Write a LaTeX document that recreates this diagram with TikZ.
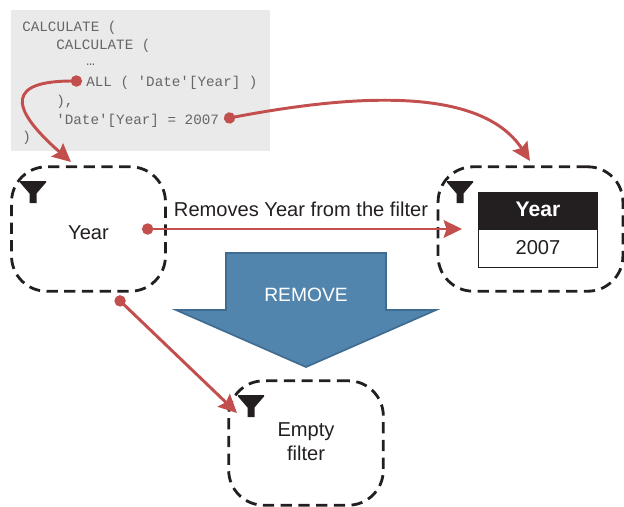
\documentclass[tikz,border=0pt]{standalone}
\usepackage{fontspec}
\setmainfont{Liberation Sans}
\setmonofont{Liberation Mono}
\usepackage{xcolor}
\usetikzlibrary{arrows.meta}
\definecolor{linkred}{HTML}{C24F4D}
\definecolor{removeblue}{HTML}{5285AE}
\definecolor{removeedge}{HTML}{3F6C90}
\definecolor{codegray}{HTML}{EAEAEA}
\definecolor{inkblack}{HTML}{231F20}
\definecolor{codeink}{HTML}{666666}
\tikzset{
    filterbox/.style={draw=inkblack,line width=2pt,dash pattern=on 8pt off 4.6pt,rounded corners=25pt,minimum height=88.5pt,inner sep=0pt},
    boxtext/.style={inner sep=0pt,text=inkblack,align=center,font=\fontsize{14.3}{17}\selectfont},
    codeline/.style={anchor=west,inner sep=0pt,text=codeink,font=\ttfamily\fontsize{10.15}{12}\selectfont},
    link/.style={draw=linkred,line width=2.1pt,{Circle[length=8pt]}-{Stealth[length=13pt,width=12.5pt,inset=2pt]}},
    funnel/.style={fill=inkblack,draw=none}
}
\begin{document}
\begin{tikzpicture}[line cap=butt,line join=miter,x=0.25mm,y=-0.25mm]
\useasboundingbox (0,0) rectangle (624,506);
\fill [codegray] (11,10) rectangle (270,151);
\node[codeline] (codeA) at (22,27.6) {CALCULATE (};
\node[codeline] (codeB) at (56,45.6) {CALCULATE (};
\node[codeline] (codeC) at (86,64.6) {…};
\node[codeline] (codeD) at (86,82.6) {ALL ( 'Date'[Year] )};
\node[codeline] (codeE) at (56,101.6) {),};
\node[codeline] (codeF) at (56,120.6) {'Date'[Year] = 2007};
\node[codeline] (codeG) at (22,137.6) {)};
\node[filterbox,minimum width=109.5pt] (boxYear) at (88.5,229) {};
\node[filterbox,minimum width=131.5pt] (boxTable) at (530.5,229) {};
\node[filterbox,minimum width=110pt] (boxEmpty) at (306,443) {};
\node[boxtext] (yearLabel) at (88.5,232.5) {Year};
\node[boxtext] (emptyLabel) at (306,442) {Empty\\filter};
\foreach \fx/\fy in {20/181,447/181,238/395} {
    \fill [funnel] (\fx,\fy) -- ++(26,0) -- ++(0,1.5) -- ++(-9.5,11) -- ++(0,9.5) -- ++(-7,0) -- ++(0,-9.5) -- ++(-9.5,-11) -- cycle;
}
\draw [draw=removeedge,fill=removeblue,line width=1.2pt] (226,253) -- (386,253) -- (386,310) -- (436,310) -- (306,367) -- (176,310) -- (226,310) -- cycle;
\node[text=white,font=\fontsize{13.7}{16}\selectfont] (removeLabel) at (306,295) {REMOVE};
\node[draw=inkblack,fill=inkblack,line width=0.7pt,minimum width=85pt,minimum height=27pt,inner sep=0pt,text depth=2.5pt,text=white,font=\bfseries\fontsize{15}{16}\selectfont] (tableHead) at (538,211) {Year};
\node[draw=inkblack,line width=0.7pt,minimum width=85pt,minimum height=26.5pt,inner sep=0pt,text depth=1.2pt,text=inkblack,font=\fontsize{14.3}{16}\selectfont] (tableValue) at (538,248.5) {2007};
\node[boxtext] (removesLabel) at (301,209) {Removes Year from the filter};
\coordinate (startAll) at (82,81);
\coordinate (endAll) at (71,162);
\coordinate (startYear) at (224,119);
\coordinate (endYear) at (530,161);
\coordinate (startRemove) at (142,229);
\coordinate (endRemove) at (462,229);
\coordinate (startEmpty) at (116,297);
\coordinate (endEmpty) at (237,413);
\draw [link] (startAll) .. controls (10,81) and (6,105) .. (endAll);
\draw [link] (startYear) .. controls (350,95) and (480,85) .. (endYear);
\draw [link] (startRemove) -- (endRemove);
\draw [link] (startEmpty) -- (endEmpty);
\end{tikzpicture}
\end{document}
